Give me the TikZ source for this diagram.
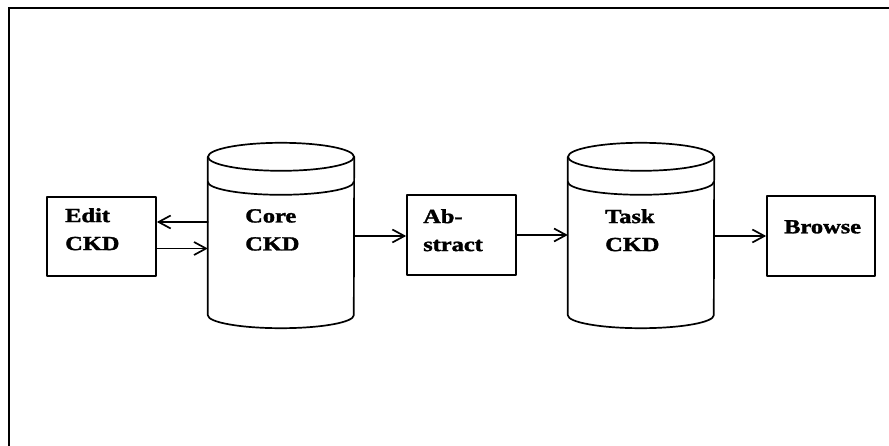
\documentclass[tikz,border=0pt]{standalone}
\usepackage{fontspec}
\setmainfont{Liberation Serif}
\newfontfamily\heavyfont{Liberation Serif}[BoldFeatures={FakeBold=1.5}]
\usetikzlibrary{arrows.meta,calc}
\tikzset{
  ln/.style={line width=1.7pt, line cap=round, line join=round},
  boxnode/.style={ln, draw, rectangle, inner sep=0pt},
  cylnode/.style={draw=none, rectangle, inner sep=0pt, minimum width=146pt, minimum height=158pt},
  lbl/.style={font=\heavyfont\fontsize{20}{28}\selectfont\bfseries, xscale=1.22, align=left, inner sep=0pt, anchor=north west},
  arr/.style={ln, -{Straight Barb[length=12pt, width=13pt, line width=1.7pt]}},
}
\newcommand{\mycyl}[1]{%
  \draw[ln] (#1.north west) -- (#1.south west)
    arc[start angle=180, end angle=0, x radius=73, y radius=13] -- (#1.north east);
  \draw[ln] (#1.north) ellipse[x radius=73, y radius=14];
  \draw[ln] ([yshift=-25pt]#1.north west) arc[start angle=180, end angle=0, x radius=73, y radius=13];
}
\begin{document}
\begin{tikzpicture}[x=1pt, y=-1pt]
  \useasboundingbox (0,0) rectangle (889,446);
  % frame
  \draw[line width=2.4pt] (9,455) -- (9,8) -- (895,8);
  % boxes
  \node[boxnode, minimum width=109pt, minimum height=79pt] (edit) at (101.5,236.5) {};
  \node[boxnode, minimum width=109pt, minimum height=80pt] (abs) at (461.5,235) {};
  \node[boxnode, minimum width=108pt, minimum height=80pt] (browse) at (821,236) {};
  % cylinders
  \node[cylnode] (core) at (281,236) {};
  \node[cylnode] (task) at (641,236) {};
  \mycyl{core}
  \mycyl{task}
  % labels
  \node[lbl] (tedit) at (65,208) {Edit\\CKD};
  \node[lbl] (tcore) at (245,209) {Core\\CKD};
  \node[lbl] (tabs) at (423,209) {Ab-\\stract};
  \node[lbl] (ttask) at (605,209) {Task\\CKD};
  \node[lbl] (tbrowse) at (784,220) {Browse};
  % connectors
  \draw[arr] ([yshift=14pt]core.west) -- ([yshift=14pt]core.west -| edit.east);
  \draw[arr] ([yshift=-12pt]edit.east) -- ([yshift=-12pt]edit.east -| core.west);
  \draw[arr] (core.east) -- (core.east -| abs.west);
  \draw[arr] (abs.east) -- (abs.east -| task.west);
  \draw[arr] (task.east) -- (task.east -| browse.west);
\end{tikzpicture}
\end{document}
